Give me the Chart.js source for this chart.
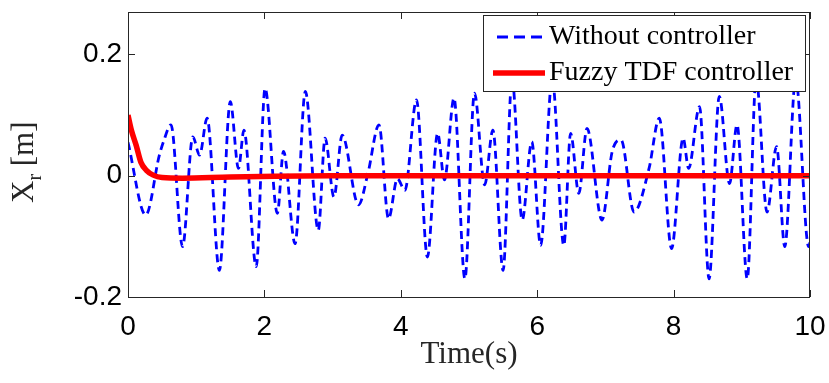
<!DOCTYPE html>
<html>
<head>
<meta charset="utf-8">
<script src="https://cdn.jsdelivr.net/npm/chart.js@4/dist/chart.umd.min.js"></script>
<style>
  html, body { margin: 0; padding: 0; background: #fff; }
  #wrap { width: 829px; height: 383px; }
</style>
</head>
<body>
<div id="wrap"><canvas id="myChart" width="829" height="383"></canvas></div>
<script>
// without controller (peaks and troughs)
let freeTime = [0, 0.26, 0.46, 0.52, 0.63, 0.80, 0.95, 1.05, 1.16, 1.34, 1.50, 1.62, 1.70, 1.88,
  2.01, 2.19, 2.28, 2.45, 2.60, 2.79, 2.89, 3.02, 3.14, 3.38, 3.52, 3.68, 3.82, 3.95,
  4.06, 4.23, 4.39, 4.54, 4.64, 4.78, 4.94, 5.08, 5.23, 5.35, 5.50, 5.63, 5.78, 5.92,
  6.05, 6.22, 6.39, 6.49, 6.61, 6.73, 6.95, 7.10, 7.23, 7.42, 7.64, 7.79, 7.97,
  8.14, 8.22, 8.38, 8.52, 8.67, 8.82, 8.93, 9.08, 9.21, 9.37, 9.51, 9.63, 9.79, 9.98, 10];
let freeValue = [0.055, -0.065, 0.034, 0.056, 0.084, -0.117, 0.064, 0.034, 0.095, -0.156, 0.122, 0.012, 0.075, -0.150,
  0.144, -0.062, 0.040, -0.112, 0.139, -0.090, 0.062, -0.035, 0.067, -0.048, 0.005, 0.084, -0.071, -0.005,
  -0.024, 0.125, -0.134, 0.070, -0.007, 0.128, -0.170, 0.136, -0.015, 0.075, -0.156, 0.160, -0.073, 0.056,
  -0.115, 0.160, -0.115, 0.070, -0.029, 0.078, -0.073, 0.040, 0.059, -0.060, 0.012, 0.095, -0.120,
  0.062, 0.012, 0.114, -0.170, 0.131, -0.013, 0.084, -0.170, 0.160, -0.060, 0.048, -0.117, 0.160, -0.117, -0.110];

// fuzzy TDF controller
let fuzzyTime = [0, 0.05, 0.12, 0.19, 0.27, 0.37, 0.5, 0.8, 1.5, 3, 10];
let fuzzyValue = [0.10, 0.075, 0.05, 0.022, 0.009, 0.001, -0.003, -0.004, -0.002, 0, 0];

let xTicks = [0, 2, 4, 6, 8, 10];
let yTicks = [-0.2, 0, 0.2];
let seriesNames = ['Without controller', 'Fuzzy TDF controller'];

const toPoints = (t, v) => t.map((x, i) => ({ x: x, y: v[i] }));

// MATLAB style box, inward ticks, legend and titles
const decor = {
  id: 'decor',
  afterDatasetsDraw(chart) {
    const { ctx, chartArea: a, scales: { x, y } } = chart;
    ctx.save();
    ctx.strokeStyle = '#262626';
    ctx.lineWidth = 1;
    ctx.strokeRect(a.left + 0.5, a.top + 0.5, a.right - a.left - 1, a.bottom - a.top);
    ctx.beginPath();
    xTicks.forEach(v => {
      let px = Math.round(x.getPixelForValue(v)) + 0.5;
      ctx.moveTo(px, a.bottom); ctx.lineTo(px, a.bottom - 7);
      ctx.moveTo(px, a.top); ctx.lineTo(px, a.top + 7);
    });
    yTicks.forEach(v => {
      let py = Math.round(y.getPixelForValue(v)) + 0.5;
      ctx.moveTo(a.left, py); ctx.lineTo(a.left + 7, py);
      ctx.moveTo(a.right, py); ctx.lineTo(a.right - 7, py);
    });
    ctx.stroke();

    // legend
    ctx.fillStyle = '#fff';
    ctx.fillRect(483, 15, 323, 77);
    ctx.strokeRect(483.5, 15.5, 322, 76);
    ctx.lineWidth = 2.8;
    ctx.strokeStyle = '#0000ff';
    ctx.setLineDash([11, 6]);
    ctx.beginPath(); ctx.moveTo(497, 37); ctx.lineTo(545, 37); ctx.stroke();
    ctx.setLineDash([]);
    ctx.lineWidth = 5.5;
    ctx.strokeStyle = '#ff0000';
    ctx.beginPath(); ctx.moveTo(493, 73); ctx.lineTo(545, 73); ctx.stroke();
    ctx.fillStyle = '#000';
    ctx.font = '28px "Liberation Serif"';
    ctx.textBaseline = 'middle';
    ctx.textAlign = 'left';
    ctx.fillText(seriesNames[0], 549, 37);
    ctx.fillText(seriesNames[1], 549, 73);

    // x title
    ctx.textAlign = 'center';
    ctx.font = '31px "Liberation Serif"';
    ctx.fillStyle = '#262626';
    ctx.fillText('Time(s)', (a.left + a.right) / 2, 355);

    // y title with subscript
    ctx.translate(33, 203);
    ctx.rotate(-Math.PI / 2);
    ctx.textAlign = 'left';
    ctx.textBaseline = 'alphabetic';
    ctx.font = '31px "Liberation Serif"';
    ctx.fillText('X', 0, 0);
    let wx = ctx.measureText('X').width;
    ctx.font = '20px "Liberation Serif"';
    ctx.fillText('r', wx, 8);
    let wr = ctx.measureText('r').width;
    ctx.font = '31px "Liberation Serif"';
    ctx.fillText(' [m]', wx + wr, 0);
    ctx.restore();
  }
};

let ctx = document.getElementById('myChart').getContext('2d');
let myChart = new Chart(ctx, {
  type: 'line',
  data: {
    datasets: [{
      label: seriesNames[0],
      data: toPoints(freeTime, freeValue),
      borderColor: '#0000ff',
      borderWidth: 2.8,
      borderDash: [8, 5],
      pointRadius: 0,
      cubicInterpolationMode: 'monotone',
      order: 1
    }, {
      label: seriesNames[1],
      data: toPoints(fuzzyTime, fuzzyValue),
      borderColor: '#ff0000',
      borderWidth: 5.5,
      pointRadius: 0,
      cubicInterpolationMode: 'monotone',
      order: 0
    }]
  },
  options: {
    responsive: false,
    devicePixelRatio: 1,
    animation: false,
    layout: { padding: { top: 12, right: 19, left: 0, bottom: 0 } },
    plugins: {
      legend: { display: false },
      tooltip: { enabled: false }
    },
    scales: {
      x: {
        type: 'linear',
        min: 0,
        max: 10,
        grid: { display: false, drawTicks: false },
        border: { display: false },
        afterBuildTicks: s => { s.ticks = xTicks.map(v => ({ value: v })); },
        afterFit: s => { s.height = 86; s.paddingLeft = 0; s.paddingRight = 0; },
        ticks: {
          color: '#000',
          padding: 13,
          maxRotation: 0,
          font: { family: 'Liberation Sans', size: 28 }
        }
      },
      y: {
        min: -0.2,
        max: 0.27,
        grid: { display: false, drawTicks: false },
        border: { display: false },
        afterBuildTicks: s => { s.ticks = yTicks.map(v => ({ value: v })); },
        afterFit: s => { s.width = 128; s.paddingTop = 0; s.paddingBottom = 0; },
        ticks: {
          color: '#000',
          padding: 6,
          font: { family: 'Liberation Sans', size: 28 },
          callback: v => (v === 0 ? '0' : v.toFixed(1))
        }
      }
    }
  },
  plugins: [decor]
});
</script>
</body>
</html>
